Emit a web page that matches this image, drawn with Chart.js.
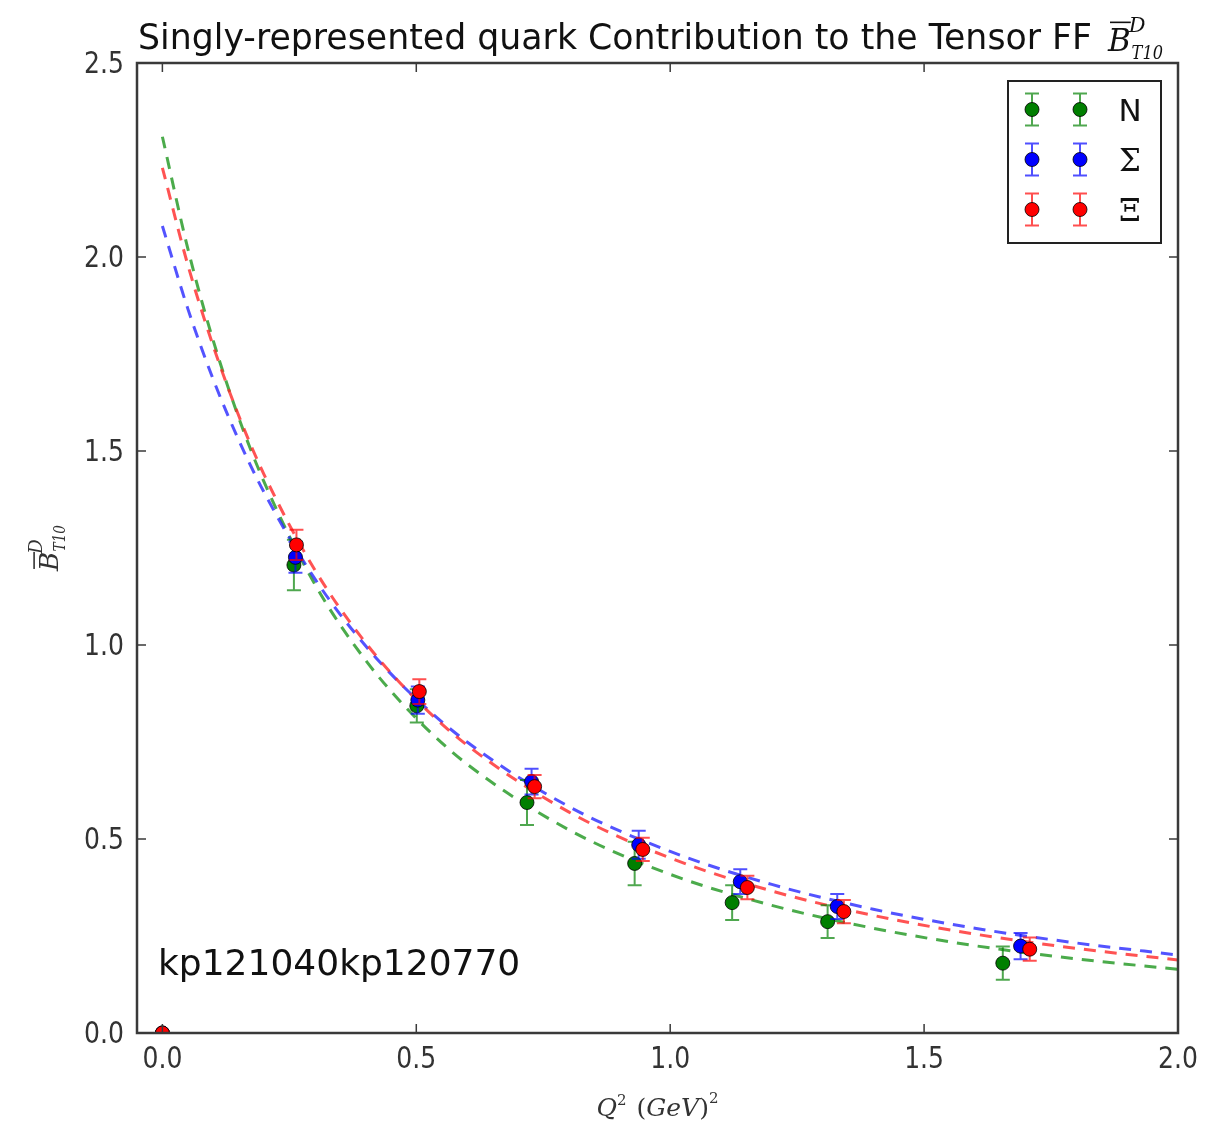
<!DOCTYPE html>
<html>
<head>
<meta charset="utf-8">
<script src="https://cdn.jsdelivr.net/npm/chart.js@4"></script>
<style>
  html, body { margin: 0; padding: 0; background: #fff; }
  #wrap { width: 1231px; height: 1131px; }
</style>
</head>
<body>
<div id="wrap"><canvas id="ffChart" width="1231" height="1131"></canvas></div>
<script>
// Data
const xTicks = [0, 0.5, 1.0, 1.5, 2.0];
const yTicks = [0, 0.5, 1.0, 1.5, 2.0, 2.5];

const q2N = [0, 0.259, 0.501, 0.718, 0.930, 1.122, 1.310, 1.655];
const bN = [0, 1.206, 0.843, 0.594, 0.437, 0.336, 0.287, 0.180];
const errN = [0, 0.065, 0.043, 0.058, 0.056, 0.045, 0.042, 0.043];

const q2Sigma = [0, 0.262, 0.503, 0.727, 0.938, 1.138, 1.329, 1.690];
const bSigma = [0, 1.226, 0.858, 0.648, 0.485, 0.390, 0.326, 0.224];
const errSigma = [0, 0.040, 0.035, 0.033, 0.036, 0.032, 0.032, 0.034];

const q2Xi = [0, 0.264, 0.506, 0.733, 0.946, 1.152, 1.342, 1.708];
const bXi = [0, 1.258, 0.880, 0.635, 0.473, 0.375, 0.313, 0.216];
const errXi = [0, 0.039, 0.032, 0.030, 0.030, 0.030, 0.030, 0.030];

// dashed fit curves
const fitQ2 = [0, 0.05, 0.1, 0.15, 0.2, 0.3, 0.4, 0.5, 0.6, 0.8, 1.0, 1.2, 1.4, 1.6, 1.8, 2.0];
const fitN = [2.31, 2.022, 1.785, 1.587, 1.421, 1.157, 0.961, 0.811, 0.693, 0.524, 0.409, 0.329, 0.270, 0.225, 0.191, 0.164];
const fitSigma = [2.08, 1.867, 1.685, 1.529, 1.394, 1.171, 0.998, 0.861, 0.750, 0.584, 0.468, 0.383, 0.319, 0.270, 0.232, 0.201];
const fitXi = [2.23, 1.980, 1.771, 1.592, 1.440, 1.194, 1.006, 0.859, 0.742, 0.570, 0.451, 0.366, 0.303, 0.255, 0.218, 0.188];

const GREEN = '#007f00', BLUE = '#0000ff', RED = '#ff0000';
const SANS = '"DejaVu Sans", sans-serif';
const SERIF = '"DejaVu Serif", serif';

const pts = (xs, ys) => xs.map((x, i) => ({ x, y: ys[i] }));

function pointSet(label, xs, ys, errs, color, order) {
  return {
    label, data: pts(xs, ys), errors: errs, errColor: color,
    showLine: false, pointRadius: 7, pointHoverRadius: 7,
    pointBackgroundColor: color, pointBorderColor: 'rgba(0,0,0,0.8)', pointBorderWidth: 1,
    clip: 0, order
  };
}
function fitSet(ys, color, order) {
  return {
    data: pts(fitQ2, ys), showLine: true, pointRadius: 0,
    borderColor: color, borderWidth: 3, borderDash: [12, 9],
    cubicInterpolationMode: 'monotone', clip: 0, order
  };
}

// draw a run of text pieces (font, dy, hscale) in sequence
function drawRun(ctx, parts, x, y) {
  let cx = x;
  parts.forEach(p => {
    ctx.font = p.font;
    const w = ctx.measureText(p.text).width * (p.sx || 1);
    ctx.save();
    ctx.translate(cx, y + (p.dy || 0));
    ctx.scale(p.sx || 1, 1);
    ctx.fillText(p.text, 0, 0);
    ctx.restore();
    if (p.over) {
      ctx.fillRect(cx + p.over[0], y + p.over[1], w + p.over[2], 1.6);
    }
    cx += w + (p.gap || 0);
  });
  return cx - x;
}
function runWidth(ctx, parts) {
  let w = 0;
  parts.forEach(p => { ctx.font = p.font; w += ctx.measureText(p.text).width * (p.sx || 1) + (p.gap || 0); });
  return w;
}
function bSymbol(size) {
  return [
    { text: 'B', font: 'italic ' + size + 'px ' + SERIF, over: [2, -size * 0.95, -2], gap: -2 },
    { text: 'D', font: 'italic ' + Math.round(size * 0.68) + 'px ' + SERIF, dy: -size * 0.62, gap: -Math.round(size * 0.45) },
    { text: 'T10', font: 'italic ' + Math.round(size * 0.6) + 'px ' + SERIF, dy: size * 0.25, sx: 0.85 }
  ];
}

function drawErrBar(ctx, x, y1, y2, color, cap) {
  ctx.strokeStyle = color;
  ctx.lineWidth = 2;
  ctx.beginPath();
  ctx.moveTo(x, y1); ctx.lineTo(x, y2);
  ctx.moveTo(x - cap, y1); ctx.lineTo(x + cap, y1);
  ctx.moveTo(x - cap, y2); ctx.lineTo(x + cap, y2);
  ctx.stroke();
}

const decorations = {
  id: 'decorations',
  beforeDatasetDraw(chart, args) {
    const ds = chart.data.datasets[args.index];
    if (!ds.errors) return;
    const { ctx, chartArea: a } = chart;
    const xs = chart.scales.x, ys = chart.scales.y;
    ctx.save();
    ctx.beginPath(); ctx.rect(a.left, a.top, a.right - a.left, a.bottom - a.top); ctx.clip();
    ds.data.forEach((p, i) => {
      const e = ds.errors[i];
      if (!e) return;
      const px = xs.getPixelForValue(p.x);
      drawErrBar(ctx, px, ys.getPixelForValue(p.y + e), ys.getPixelForValue(p.y - e), ds.errColor + 'b0', 7);
    });
    ctx.restore();
  },
  afterDraw(chart) {
    const { ctx, chartArea: a } = chart;
    const xs = chart.scales.x, ys = chart.scales.y;
    ctx.save();
    // frame
    ctx.strokeStyle = '#3a3a3a';
    ctx.lineWidth = 2.5;
    ctx.strokeRect(a.left, a.top, a.right - a.left, a.bottom - a.top);
    // inward ticks on all sides + labels
    ctx.lineWidth = 1.5;
    ctx.fillStyle = '#333';
    ctx.font = '31px ' + SANS;
    ctx.textBaseline = 'alphabetic';
    ctx.beginPath();
    xTicks.forEach(v => {
      const px = xs.getPixelForValue(v);
      ctx.moveTo(px, a.bottom); ctx.lineTo(px, a.bottom - 9);
      ctx.moveTo(px, a.top); ctx.lineTo(px, a.top + 9);
      ctx.save(); ctx.translate(px, a.bottom + 35); ctx.scale(0.81, 1);
      ctx.textAlign = 'center'; ctx.fillText(v.toFixed(1), 0, 0); ctx.restore();
    });
    yTicks.forEach(v => {
      const py = ys.getPixelForValue(v);
      ctx.moveTo(a.left, py); ctx.lineTo(a.left + 9, py);
      ctx.moveTo(a.right, py); ctx.lineTo(a.right - 9, py);
      ctx.save(); ctx.translate(a.left - 13, py + 10); ctx.scale(0.81, 1);
      ctx.textAlign = 'right'; ctx.fillText(v.toFixed(1), 0, 0); ctx.restore();
    });
    ctx.stroke();

    // title: text stretched to span from the left axis edge to the symbol
    ctx.fillStyle = '#111';
    ctx.textAlign = 'left';
    ctx.font = '35px ' + SANS;
    const tText = 'Singly-represented quark Contribution to the Tensor FF';
    const tsx = 954 / ctx.measureText(tText).width;
    drawRun(ctx, [{ text: tText, font: '35px ' + SANS, sx: tsx }], a.left + 1, 49);
    drawRun(ctx, bSymbol(31), a.left + 971, 51);

    // x label
    ctx.fillStyle = '#333';
    const xl = [
      { text: 'Q', font: 'italic 25px ' + SERIF },
      { text: '2', font: '15px ' + SERIF, dy: -11, gap: 10 },
      { text: '(', font: '25px ' + SERIF },
      { text: 'GeV', font: 'italic 25px ' + SERIF },
      { text: ')', font: '25px ' + SERIF },
      { text: '2', font: '15px ' + SERIF, dy: -13 }
    ];
    const xw = runWidth(ctx, xl);
    drawRun(ctx, xl, (a.left + a.right) / 2 - xw / 2, 1116);

    // y label (rotated)
    ctx.save();
    ctx.translate(58, ys.getPixelForValue(1.25));
    ctx.rotate(-Math.PI / 2);
    const yl = bSymbol(26);
    const yw = runWidth(ctx, yl);
    drawRun(ctx, yl, -yw / 2, 0);
    ctx.restore();

    // lattice tag
    ctx.fillStyle = '#111';
    ctx.font = '36px ' + SANS;
    ctx.fillText('kp121040kp120770', 158, 975);

    // legend
    ctx.fillStyle = '#fff';
    ctx.fillRect(1008, 81, 153, 162);
    ctx.strokeStyle = '#222';
    ctx.lineWidth = 2;
    ctx.strokeRect(1008, 81, 153, 162);
    const rows = [
      { c: GREEN, t: 'N', f: '31px ' + SANS },
      { c: BLUE, t: 'Σ', f: '31px ' + SERIF },
      { c: RED, t: 'Ξ', f: '31px ' + SERIF }
    ];
    rows.forEach((r, i) => {
      const y = 109.5 + i * 50;
      [1032, 1080].forEach(x => {
        drawErrBar(ctx, x, y - 16, y + 16, r.c + 'b0', 7);
        ctx.beginPath();
        ctx.arc(x, y, 7, 0, Math.PI * 2);
        ctx.fillStyle = r.c; ctx.fill();
        ctx.lineWidth = 1; ctx.strokeStyle = 'rgba(0,0,0,0.8)'; ctx.stroke();
      });
      ctx.fillStyle = '#111';
      ctx.font = r.f;
      ctx.textAlign = 'center';
      ctx.fillText(r.t, 1130, y + 11);
    });
    ctx.restore();
  }
};

new Chart(document.getElementById('ffChart'), {
  type: 'scatter',
  data: {
    datasets: [
      pointSet('Ξ', q2Xi, bXi, errXi, RED, 0),
      pointSet('Σ', q2Sigma, bSigma, errSigma, BLUE, 1),
      pointSet('N', q2N, bN, errN, GREEN, 2),
      fitSet(fitXi, 'rgba(255,40,40,0.8)', 3),
      fitSet(fitSigma, 'rgba(40,40,255,0.8)', 4),
      fitSet(fitN, 'rgba(30,150,30,0.8)', 5)
    ]
  },
  options: {
    responsive: false,
    animation: false,
    events: [],
    layout: { padding: { top: 63, right: 53, left: 0, bottom: 0 } },
    plugins: { legend: { display: false }, title: { display: false }, tooltip: { enabled: false } },
    scales: {
      x: {
        type: 'linear', min: -0.05, max: 2.0,
        grid: { display: false }, border: { display: false },
        ticks: { display: false },
        afterBuildTicks: s => { s.ticks = xTicks.map(v => ({ value: v })); },
        afterFit: s => { s.height = 98; }
      },
      y: {
        type: 'linear', min: 0, max: 2.5,
        grid: { display: false }, border: { display: false },
        ticks: { display: false },
        afterBuildTicks: s => { s.ticks = yTicks.map(v => ({ value: v })); },
        afterFit: s => { s.width = 137; }
      }
    }
  },
  plugins: [decorations]
});
</script>
</body>
</html>
